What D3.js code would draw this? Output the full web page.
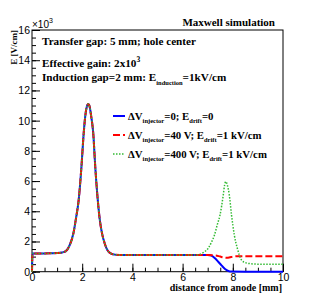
<!DOCTYPE html>
<html>
<head>
<script src="https://d3js.org/d3.v7.min.js"></script>
<style>
  body {margin: 0; background: #fff;}
  .tick text {font: 10.5px "Liberation Sans", Arial, sans-serif; fill: #000;}
  .serif {font-family: "Liberation Serif", "Times New Roman", serif; font-weight: bold;}
</style>
</head>
<body>
<svg id="chart" width="315" height="302"></svg>
<script>
// values, E in units of 10^3 V/cm
var xCommon = [0, 0.02, 0.5, 1.0, 1.2, 1.35, 1.5, 1.65, 1.75, 1.86, 1.97, 2.06, 2.12, 2.18, 2.24, 2.30, 2.36, 2.44, 2.52, 2.62, 2.70, 2.79, 2.90, 3.0, 3.15, 3.3, 3.5, 4, 5, 6, 6.5];
var eCommon = [0, 1.2, 1.21, 1.23, 1.27, 1.36, 1.75, 2.54, 3.5, 4.75, 6.95, 9.17, 10.27, 10.9, 11.1, 10.9, 10.27, 9.17, 6.95, 4.75, 3.45, 2.54, 1.85, 1.44, 1.2, 1.13, 1.11, 1.1, 1.1, 1.1, 1.1];

var xBlueTail = [7.0, 7.09, 7.2, 7.29, 7.42, 7.56, 7.69, 7.82, 7.95, 8.5, 10];
var eBlueTail = [1.1, 1.09, 1.02, 0.89, 0.66, 0.4, 0.18, 0.05, 0.01, 0, 0];

var xRedTail = [7.0, 7.3, 7.5, 7.65, 7.76, 7.88, 8.0, 8.2, 9, 10];
var eRedTail = [1.1, 1.08, 1.0, 0.94, 0.92, 0.95, 1.0, 1.02, 1.02, 1.02];

var xGreenTail = [6.69, 6.85, 7.02, 7.15, 7.27, 7.38, 7.49, 7.62, 7.67, 7.72, 7.78, 7.86, 7.95, 8.06, 8.18, 8.35, 8.5, 8.62, 9, 10];
var eGreenTail = [1.15, 1.3, 1.55, 1.95, 2.43, 3.1, 3.75, 5.08, 5.7, 5.96, 5.75, 5.08, 3.75, 2.43, 1.55, 0.77, 0.6, 0.55, 0.5, 0.5];

var xTicks = [0, 2, 4, 6, 8, 10];
var yTicks = [0, 2, 4, 6, 8, 10, 12, 14, 16];

var headerLines = ["Transfer gap: 5 mm; hole center", "Effective gain: 2x10", "Induction gap=2 mm: E"];

var svg = d3.select("#chart"),
    margin = {top: 30, right: 32, bottom: 30.3, left: 32},
    width = +svg.attr("width") - margin.left - margin.right,
    height = +svg.attr("height") - margin.top - margin.bottom,
    g = svg.append("g").attr("transform", "translate(" + margin.left + "," + margin.top + ")");

var x = d3.scaleLinear().domain([0, 10]).range([0, width]);
var y = d3.scaleLinear().domain([0, 16]).range([height, 0]);

function pts(xs, es) { return xs.map(function(v, i) { return [v, es[i]]; }); }

var series = [
  {pts: pts(xCommon, eCommon).concat(pts(xBlueTail, eBlueTail)), color: "#0000ff", w: 2, dash: null},
  {pts: pts(xCommon, eCommon).concat(pts(xRedTail, eRedTail)), color: "#ff0000", w: 2, dash: "7,3"},
  {pts: pts(xCommon, eCommon).concat(pts(xGreenTail, eGreenTail)), color: "#33bb33", w: 1.5, dash: "1.5,1.5"}
];

var line = d3.line()
    .x(function(d) { return x(d[0]); })
    .y(function(d) { return y(d[1]); })
    .curve(d3.curveMonotoneX);

// axes: ticks point into the frame
var minorX = d3.range(0, 10.01, 0.5), minorY = d3.range(0, 16.01, 0.5);
g.append("g").attr("transform", "translate(0," + height + ")")
    .call(d3.axisBottom(x).tickValues(minorX).tickSize(-4).tickFormat(""));
g.append("g").attr("transform", "translate(0," + height + ")")
    .call(d3.axisBottom(x).tickValues(xTicks).tickSize(-8).tickPadding(1.5).tickFormat(d3.format("d")));
g.append("g")
    .call(d3.axisLeft(y).tickValues(minorY).tickSize(-4).tickFormat(""));
g.append("g")
    .call(d3.axisLeft(y).tickValues(yTicks).tickSize(-8).tickPadding(2).tickFormat(d3.format("d")));
g.selectAll(".domain").remove();
g.selectAll(".tick line").attr("stroke", "#000");

g.append("rect")
    .attr("width", width).attr("height", height)
    .attr("fill", "none").attr("stroke", "#000").attr("stroke-width", 1);

series.forEach(function(s) {
  g.append("path")
      .datum(s.pts)
      .attr("fill", "none")
      .attr("stroke", s.color)
      .attr("stroke-width", s.w)
      .attr("stroke-dasharray", s.dash)
      .attr("d", line);
});

// texts
svg.append("text").attr("x", 32).attr("y", 28)
    .attr("font-family", "Liberation Sans, sans-serif").attr("font-size", 10)
    .text("\u00d710").append("tspan").attr("dy", -5).attr("font-size", 7).text("3");

svg.append("text").attr("class", "serif").attr("x", 275).attr("y", 25.5)
    .attr("text-anchor", "end").attr("font-size", 11).text("Maxwell simulation");

svg.append("text").attr("class", "serif")
    .attr("transform", "translate(16.5,30) rotate(-90)")
    .attr("text-anchor", "end").attr("font-size", 9).text("E [V/cm]");

svg.append("text").attr("class", "serif").attr("x", 282).attr("y", 290.5)
    .attr("text-anchor", "end").attr("font-size", 10).text("distance from anode [mm]");

var hy = [45, 67, 81];
var h0 = svg.append("text").attr("class", "serif").attr("x", 42).attr("y", hy[0]).attr("font-size", 11.2).text(headerLines[0]);
var h1 = svg.append("text").attr("class", "serif").attr("x", 42).attr("y", hy[1]).attr("font-size", 11.2).text(headerLines[1]);
h1.append("tspan").attr("dy", -5).attr("font-size", 7.5).text("3");
var h2 = svg.append("text").attr("class", "serif").attr("x", 42).attr("y", hy[2]).attr("font-size", 11.2).text(headerLines[2]);
h2.append("tspan").attr("dy", 3.5).attr("font-size", 6.5).text("induction");
h2.append("tspan").attr("dy", -3.5).text("=1kV/cm");

var legend = [
  {color: "#0000ff", w: 2, dash: null, a: "=0; E", b: "=0"},
  {color: "#ff0000", w: 2, dash: "7,3", a: "=40 V; E", b: "=1 kV/cm"},
  {color: "#33bb33", w: 1.5, dash: "1.5,1.5", a: "=400 V; E", b: "=1 kV/cm"}
];
var ly = [116, 135, 154];
legend.forEach(function(l, i) {
  svg.append("line").attr("x1", 113).attr("x2", 125).attr("y1", ly[i]).attr("y2", ly[i])
      .attr("stroke", l.color).attr("stroke-width", l.w).attr("stroke-dasharray", l.dash);
  var t = svg.append("text").attr("class", "serif").attr("x", 128).attr("y", ly[i] + 3.5).attr("font-size", 10.8);
  t.append("tspan").text("\u0394V");
  t.append("tspan").attr("dy", 3.5).attr("font-size", 6.5).text("injector");
  t.append("tspan").attr("dy", -3.5).text(l.a);
  t.append("tspan").attr("dy", 3.5).attr("font-size", 6.5).text("drift");
  t.append("tspan").attr("dy", -3.5).text(l.b);
});
</script>
</body>
</html>
